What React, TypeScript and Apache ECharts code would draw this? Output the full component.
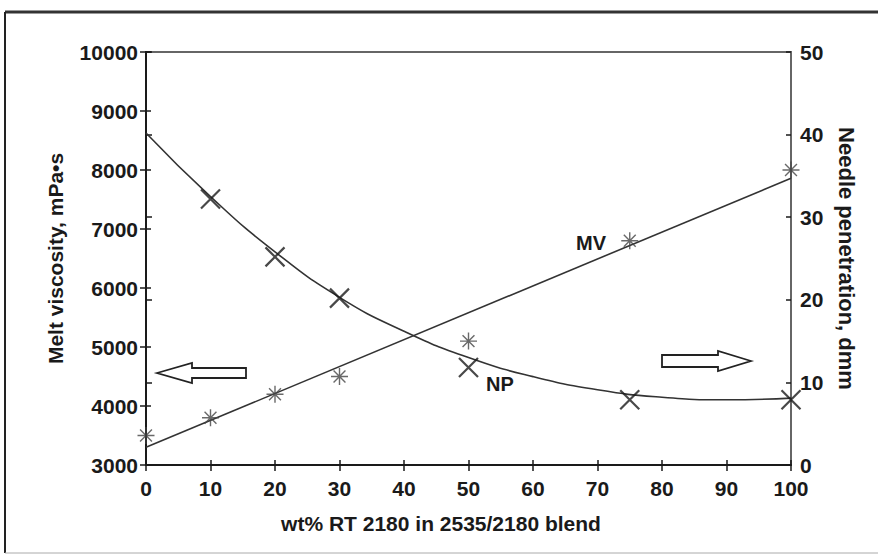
import React, { useEffect, useRef } from "react";
import * as echarts from "echarts";

// Measured points (wt% RT 2180 in blend)
const mvPct = [0, 10, 20, 30, 50, 75, 100];
const mvValues = [3500, 3800, 4200, 4500, 5100, 6800, 8000];
const npPct = [10, 20, 30, 50, 75, 100];
const npValues = [32.2, 25.2, 20.2, 11.8, 7.9, 7.9];

// Fitted curves
const mvFitPct = [0, 100];
const mvFitValues = [3300, 7860];
const npFitPct = [0, 10, 20, 30, 40, 50, 60, 70, 80, 90, 100];
const npFitValues = [40.2, 32.5, 25.8, 20.3, 16.2, 13.0, 10.7, 9.1, 8.2, 7.9, 8.1];

const xAxisTitle = "wt% RT 2180 in 2535/2180 blend";
const leftAxisTitle = "Melt viscosity, mPa\u2022s";
const rightAxisTitle = "Needle penetration, dmm";

const FONT = "'Liberation Sans', Arial, Helvetica, sans-serif";
const INK = "#1a1a1a";

const pairs = (xs: number[], ys: number[]) => xs.map((x, i) => [x, ys[i]]);

const ASTERISK = "path://M10,0L10,20M0,10L20,10M3,3L17,17M3,17L17,3";
const CROSS = "path://M0,0L20,20M0,20L20,0";

export default function App() {
  const ref = useRef<HTMLDivElement>(null);
  useEffect(() => {
    document.body.style.margin = "0";
    if (!ref.current) return;
    const chart = echarts.init(ref.current, undefined, { renderer: "svg" });
    const tickLabel = {
      fontFamily: FONT,
      fontWeight: "bold" as const,
      fontSize: 21,
      lineHeight: 18,
      color: INK,
      formatter: (v: number) => String(v),
    };
    const nameStyle = {
      fontFamily: FONT,
      fontWeight: "bold" as const,
      fontSize: 21,
      color: INK,
    };
    chart.setOption({
      animation: false,
      backgroundColor: "#ffffff",
      grid: {
        left: 146,
        right: 87,
        top: 52,
        bottom: 95,
        show: true,
        borderColor: "#666",
        borderWidth: 2,
        backgroundColor: "transparent",
      },
      xAxis: [
        {
          type: "value",
          min: 0,
          max: 100,
          interval: 10,
          position: "bottom",
          axisLine: { show: true, lineStyle: { color: INK, width: 2 } },
          axisTick: { show: true, length: 6, lineStyle: { color: INK, width: 1.5 } },
          axisLabel: { ...tickLabel, margin: 14 },
          splitLine: { show: false },
        },
        {
          type: "value",
          min: 0,
          max: 100,
          interval: 10,
          position: "bottom",
          axisLine: { show: false },
          axisTick: { show: true, inside: true, length: 5, lineStyle: { color: INK, width: 1.5 } },
          axisLabel: { show: false },
          splitLine: { show: false },
        },
      ],
      yAxis: [
        {
          type: "value",
          min: 3000,
          max: 10000,
          interval: 1000,
          position: "left",
          name: leftAxisTitle,
          nameLocation: "middle",
          nameGap: 80,
          nameRotate: 90,
          nameTextStyle: nameStyle,
          axisLine: { show: true, lineStyle: { color: INK, width: 2 } },
          axisTick: { show: true, length: 6, lineStyle: { color: INK, width: 1.5 } },
          axisLabel: { ...tickLabel, margin: 8 },
          splitLine: { show: false },
        },
        {
          type: "value",
          min: 0,
          max: 50,
          interval: 10,
          position: "right",
          name: rightAxisTitle,
          nameLocation: "middle",
          nameGap: 44,
          nameRotate: -90,
          nameTextStyle: { ...nameStyle, fontSize: 22 },
          axisLine: { show: true, lineStyle: { color: INK, width: 2 } },
          axisTick: { show: true, length: 6, lineStyle: { color: INK, width: 1.5 } },
          axisLabel: { ...tickLabel, margin: 9 },
          splitLine: { show: false },
        },
        {
          type: "value",
          min: 3000,
          max: 10000,
          interval: 1000,
          position: "left",
          axisLine: { show: false },
          axisTick: { show: true, inside: true, length: 5, lineStyle: { color: INK, width: 1.5 } },
          axisLabel: { show: false },
          splitLine: { show: false },
        },
        {
          type: "value",
          min: 0,
          max: 50,
          interval: 10,
          position: "right",
          axisLine: { show: false },
          axisTick: { show: true, inside: true, length: 5, lineStyle: { color: INK, width: 1.5 } },
          axisLabel: { show: false },
          splitLine: { show: false },
        },
      ],
      series: [
        {
          name: "MV fit",
          type: "line",
          xAxisIndex: 0,
          yAxisIndex: 0,
          data: pairs(mvFitPct, mvFitValues),
          showSymbol: false,
          lineStyle: { color: "#333", width: 1.6 },
          z: 2,
        },
        {
          name: "NP fit",
          type: "line",
          xAxisIndex: 0,
          yAxisIndex: 1,
          data: pairs(npFitPct, npFitValues),
          smooth: 0.5,
          showSymbol: false,
          lineStyle: { color: "#333", width: 1.6 },
          z: 2,
        },
        {
          name: "MV",
          type: "scatter",
          xAxisIndex: 0,
          yAxisIndex: 0,
          data: pairs(mvPct, mvValues),
          symbol: ASTERISK,
          symbolSize: 17,
          itemStyle: { color: "transparent", borderColor: "#444", borderWidth: 1.4 },
          z: 3,
        },
        {
          name: "NP",
          type: "scatter",
          xAxisIndex: 0,
          yAxisIndex: 1,
          data: pairs(npPct, npValues),
          symbol: CROSS,
          symbolSize: 19,
          itemStyle: { color: "transparent", borderColor: "#1a1a1a", borderWidth: 2.2 },
          z: 3,
        },
      ],
      graphic: [
        // outer frame
        { type: "line", shape: { x1: 5, y1: 12, x2: 878, y2: 12 }, style: { stroke: "#333", lineWidth: 3 } },
        { type: "line", shape: { x1: 5, y1: 12, x2: 5, y2: 553 }, style: { stroke: "#222", lineWidth: 2 } },
        { type: "line", shape: { x1: 5, y1: 553, x2: 878, y2: 553 }, style: { stroke: "#aaa", lineWidth: 1 } },
        // x-axis title
        {
          type: "text",
          x: 441,
          y: 523,
          style: {
            text: xAxisTitle,
            font: `bold 21px ${FONT}`,
            fill: INK,
            textAlign: "center",
            textVerticalAlign: "middle",
          },
        },
        // series labels
        {
          type: "text",
          x: 591,
          y: 243,
          style: { text: "MV", font: `bold 20px ${FONT}`, fill: INK, textAlign: "center", textVerticalAlign: "middle" },
        },
        {
          type: "text",
          x: 500,
          y: 384,
          style: { text: "NP", font: `bold 20px ${FONT}`, fill: INK, textAlign: "center", textVerticalAlign: "middle" },
        },
        // left-pointing hollow arrow
        {
          type: "polygon",
          shape: {
            points: [
              [157, 373],
              [192, 363],
              [192, 368],
              [246, 368],
              [246, 378],
              [192, 378],
              [192, 383],
            ],
          },
          style: { fill: "#fff", stroke: "#222", lineWidth: 1.8 },
        },
        // right-pointing hollow arrow
        {
          type: "polygon",
          shape: {
            points: [
              [751, 361],
              [718, 351],
              [718, 355],
              [662, 355],
              [662, 367],
              [718, 367],
              [718, 371],
            ],
          },
          style: { fill: "#fff", stroke: "#222", lineWidth: 1.8 },
        },
      ],
    });
    return () => chart.dispose();
  }, []);
  return <div ref={ref} style={{ width: 878, height: 560 }} />;
}
